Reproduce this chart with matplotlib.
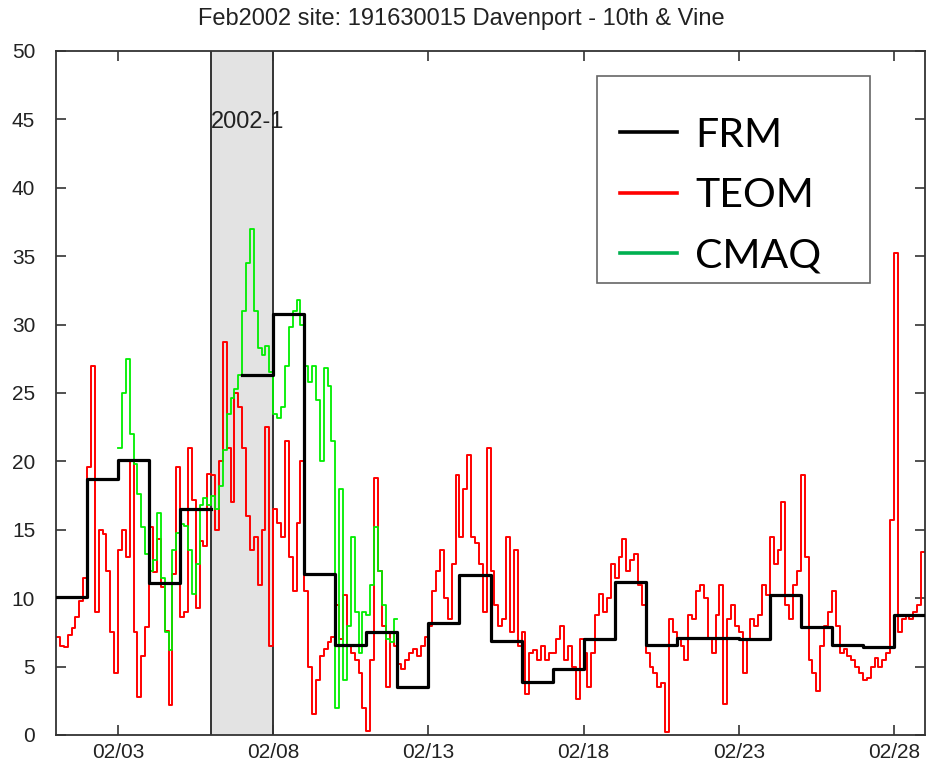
import matplotlib
matplotlib.use("Agg")
import matplotlib.pyplot as plt
import matplotlib.dates as mdates
from matplotlib.lines import Line2D
from matplotlib.patches import Rectangle
import numpy as np
import pandas as pd

# ---------------- data ----------------
title = "Feb2002 site: 191630015 Davenport - 10th & Vine"
event_label = "2002-1"
event_start = "2002-02-06"
event_end = "2002-02-08"

# FRM daily means (Feb 1 .. Feb 28), Feb 6 missing
frm_start = "2002-02-01"
frm_values = [10.1, 18.7, 20.1, 11.1, 16.5, np.nan, 26.3, 30.8, 11.8, 6.6,
              7.5, 3.5, 8.2, 11.7, 6.9, 3.9, 4.8, 7.0, 11.2, 6.6,
              7.1, 7.1, 7.0, 10.2, 7.9, 6.6, 6.4, 8.8]

# TEOM, 3-hourly from Feb 1 00:00
teom_start = "2002-02-01"
teom_values = [
    7.2, 6.5, 6.4, 7.3, 7.8, 8.6, 9.8, 11.5,
    19.6, 27.0, 9.0, 15.0, 14.7, 12.0, 7.5, 4.5,
    13.5, 15.0, 13.0, 20.0, 7.5, 2.8, 5.8, 7.9,
    15.2, 11.9, 14.3, 10.8, 7.6, 2.2, 11.8, 19.6,
    8.6, 9.0, 21.0, 17.2, 9.3, 14.2, 13.8, 19.1,
    19.0, 15.0, 20.0, 28.7, 21.0, 17.0, 25.0, 24.0,
    21.0, 16.0, 13.5, 14.5, 11.0, 15.0, 22.5, 6.5,
    16.5, 15.5, 14.5, 21.5, 13.0, 10.5, 15.5, 20.0,
    10.5, 5.0, 1.5, 4.0, 5.8, 6.3, 6.8, 7.2,
    9.5, 7.0, 10.2, 6.5, 6.0, 5.5, 4.5, 2.0,
    0.3, 5.5, 18.8, 12.0, 8.0, 3.5, 7.5, 6.5,
    5.2, 4.8, 5.5, 6.0, 6.3, 5.8, 6.5, 7.2,
    8.0, 10.5, 12.0, 13.5, 10.0, 8.5, 12.5, 19.0,
    14.5, 18.0, 20.5, 14.5, 14.0, 12.5, 9.0, 21.0,
    12.0, 9.5, 8.0, 8.5, 14.5, 7.5, 13.5, 6.5,
    7.5, 3.0, 6.0, 6.2, 5.5, 6.5, 5.5, 6.0,
    6.0, 7.0, 8.0, 5.5, 6.5, 5.0, 2.6, 7.0,
    6.0, 3.5, 6.0, 8.8, 10.3, 9.0, 10.0, 12.5,
    11.5, 13.0, 14.3, 12.0, 12.8, 13.2, 11.0, 9.5,
    6.0, 5.0, 4.5, 3.5, 3.8, 0.2, 8.5, 7.5,
    7.0, 6.5, 5.5, 8.8, 8.5, 10.5, 11.0, 10.0,
    7.0, 6.0, 8.8, 11.0, 2.3, 8.5, 9.5, 8.0,
    7.5, 4.5, 7.0, 8.5, 8.0, 8.8, 11.0, 10.2,
    14.5, 12.5, 13.5, 17.0, 9.5, 8.5, 11.0, 12.0,
    19.0, 13.0, 5.5, 4.5, 3.2, 6.5, 8.0, 9.0,
    10.5, 8.0, 6.0, 6.3, 5.8, 5.5, 5.0, 4.5,
    4.0, 4.2, 5.0, 5.6, 5.0, 5.5, 6.0, 15.7,
    35.2, 7.5, 8.5, 8.8, 8.5, 9.0, 9.5, 13.4,
]

# CMAQ, 3-hourly from Feb 3 00:00
cmaq_start = "2002-02-03"
cmaq_values = [
    21.0, 25.0, 27.5, 22.0, 19.8, 17.6, 15.2, 13.2,
    12.0, 12.8, 16.2, 11.5, 7.5, 6.2, 13.5, 14.8,
    15.4, 15.3, 13.5, 10.3, 12.5, 16.8, 17.3, 16.8,
    17.5, 16.5, 18.2, 20.8, 23.5, 24.6, 25.3, 26.3,
    31.0, 34.5, 37.0, 31.0, 28.3, 27.8, 28.4, 26.5,
    23.5, 23.2, 24.0, 27.0, 29.8, 31.0, 31.8, 30.0,
    27.0, 25.8, 27.0, 24.5, 20.0, 26.8, 25.5, 21.5,
    2.0, 18.0, 4.0, 8.0, 14.5, 9.0, 6.0, 9.0,
    8.8, 11.0, 15.2, 12.0, 9.5, 7.0, 6.8, 8.5,
]

series_names = ["FRM", "TEOM", "CMAQ"]
yticks = list(range(0, 51, 5))
xtick_dates = ["2002-02-03", "2002-02-08", "2002-02-13", "2002-02-18", "2002-02-23", "2002-02-28"]
xlim = ("2002-02-01", "2002-03-01")

# ---------------- plotting ----------------
W, H = 928, 773
fig = plt.figure(figsize=(W / 100, H / 100), dpi=100)
ax = fig.add_axes([56 / W, 1 - 735 / H, (925 - 56) / W, (735 - 51) / H])

tick_font = ["Liberation Sans", "DejaVu Sans"]
txt_col = "#222222"


def stepped(start, values, freq):
    t = pd.date_range(start, periods=len(values) + 1, freq=freq)
    v = list(values) + [values[-1]]
    return t, v


ax.axvspan(pd.Timestamp(event_start), pd.Timestamp(event_end), facecolor="#e3e3e3",
           edgecolor="none", zorder=0)
for d in (event_start, event_end):
    ax.axvline(pd.Timestamp(d), color="#333333", lw=1.4, zorder=0.5)
ax.text(pd.Timestamp(event_start), 44.8, event_label, ha="left", va="center",
        fontsize=17, color=txt_col, family=tick_font, zorder=1)

t, v = stepped(teom_start, teom_values, "3h")
ax.plot(t, v, color="#ff0000", lw=1.4, drawstyle="steps-post", zorder=2)
t, v = stepped(cmaq_start, cmaq_values, "3h")
ax.plot(t, v, color="#00ee00", lw=1.3, drawstyle="steps-post", zorder=3)
t, v = stepped(frm_start, frm_values, "D")
ax.plot(t, v, color="black", lw=2.3, drawstyle="steps-post", zorder=4)

ax.set_xlim(pd.Timestamp(xlim[0]), pd.Timestamp(xlim[1]))
ax.set_ylim(0, 50)
ax.set_yticks(yticks)
ax.set_xticks([pd.Timestamp(d) for d in xtick_dates])
ax.xaxis.set_major_formatter(mdates.DateFormatter("%m/%d"))

ax.tick_params(direction="in", length=7, width=1.2, top=True, right=True,
               color="#333333", labelcolor=txt_col, labelsize=15)
ax.tick_params(axis="x", pad=6)
ax.tick_params(axis="y", pad=15)
for lab in ax.get_xticklabels() + ax.get_yticklabels():
    lab.set_family(tick_font)
for s in ax.spines.values():
    s.set_color("#333333")
    s.set_linewidth(1.3)

fig.text(461 / W, 1 - 19 / H, title, ha="center", va="center", fontsize=17,
         color=txt_col, family=tick_font)

# legend box
x0, x1 = (597 - 56) / 869, (870 - 56) / 869
y1, y0 = (735 - 76) / 684, (735 - 283) / 684
ax.add_patch(Rectangle((x0, y0), x1 - x0, y1 - y0, transform=ax.transAxes,
                       facecolor="white", edgecolor="#666666", lw=1.2, zorder=10))
handles = [Line2D([], [], color="black", lw=2.6),
           Line2D([], [], color="#ff0000", lw=2.6),
           Line2D([], [], color="#00b050", lw=2.6)]
leg = ax.legend(handles, series_names, loc="upper left",
                bbox_to_anchor=(x0, y1 - 18 / 684),
                borderaxespad=0, borderpad=0.55, frameon=False, handlelength=1.4,
                handletextpad=0.45, labelspacing=0.57,
                prop={"family": ["Lato", "DejaVu Sans"], "size": 29.5})
leg.set_zorder(11)

fig.savefig("out.png", dpi=100, facecolor="white")
